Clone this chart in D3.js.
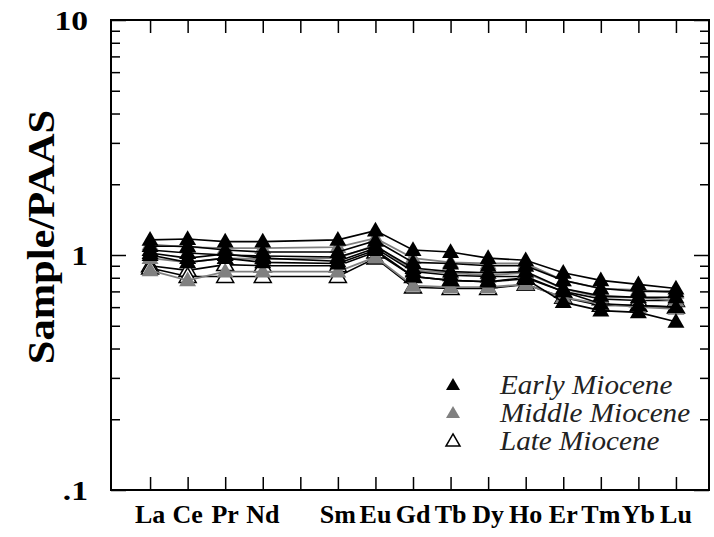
<!DOCTYPE html>
<html><head><meta charset="utf-8">
<script src="https://cdn.jsdelivr.net/npm/d3@7"></script>
<style>
html,body{margin:0;padding:0;background:#fff;}
svg{display:block;}
</style>
</head><body>
<svg id="chart" width="714" height="537"></svg>
<script>
// ---- data ----
const ree = ["La","Ce","Pr","Nd","Sm","Eu","Gd","Tb","Dy","Ho","Er","Tm","Yb","Lu"];
const reeZ = [57,58,59,60,62,63,64,65,66,67,68,69,70,71];
const tickZ = [57,58,59,60,61,62,63,64,65,66,67,68,69,70,71];
const tickLabels = ["La","Ce","Pr","Nd","","Sm","Eu","Gd","Tb","Dy","Ho","Er","Tm","Yb","Lu"];
const yMajor = [0.1, 1, 10];
const yMajorLabels = [".1", "1", "10"];
const yMinor = [0.2,0.3,0.4,0.5,0.6,0.7,0.8,0.9,2,3,4,5,6,7,8,9];

const early1 = [1.16,1.17,1.14,1.14,1.16,1.27,1.05,1.03,0.97,0.95,0.84,0.78,0.75,0.72];
const early2 = [1.09,1.09,1.05,1.03,1.03,1.15,0.93,0.92,0.90,0.90,0.78,0.72,0.70,0.70];
const early3 = [1.05,1.02,1.00,0.99,0.98,1.09,0.88,0.85,0.84,0.85,0.72,0.67,0.66,0.66];
const early4 = [1.02,0.97,1.01,0.97,0.94,1.07,0.85,0.82,0.81,0.81,0.70,0.62,0.61,0.60];
const early5 = [1.00,0.93,0.97,0.93,0.92,1.05,0.81,0.78,0.77,0.79,0.63,0.58,0.57,0.52];
const middle1 = [1.11,1.08,1.07,1.07,1.08,1.18,0.97,0.93,0.92,0.92,0.78,0.72,0.71,0.69];
const middle2 = [0.97,0.93,0.97,0.96,0.97,1.10,0.86,0.84,0.82,0.84,0.72,0.66,0.66,0.64];
const middle3 = [0.86,0.78,0.85,0.85,0.85,0.98,0.74,0.73,0.73,0.75,0.66,0.62,0.60,0.59];
const late1 = [0.90,0.86,0.91,0.90,0.90,1.03,0.81,0.78,0.77,0.80,0.70,0.65,0.64,0.64];
const late2 = [0.88,0.81,0.81,0.81,0.81,0.97,0.73,0.72,0.72,0.75,0.66,0.61,0.61,0.60];

const groupNames = ["Early Miocene","Middle Miocene","Late Miocene"];

// ---- drawing ----
const svg = d3.select("#chart");
const L = 111, R = 709, T = 20, B = 490;
const x = d3.scaleLinear().domain([55.96, 71.88]).range([L, R]);
const y = d3.scaleLog().domain([0.1, 10]).range([B, T]);

const serif = "Liberation Serif";

const groups = [
  {name: groupNames[2], series: [late1, late2], fill: "#ffffff", stroke: "#000", line: "#000", lw: 1.6},
  {name: groupNames[1], series: [middle1, middle2, middle3], fill: "#808080", stroke: "none", line: "#808080", lw: 1.8},
  {name: groupNames[0], series: [early1, early2, early3, early4, early5], fill: "#000", stroke: "none", line: "#000", lw: 1.6}
];

const line = d3.line().x((d,i) => x(reeZ[i])).y(d => y(d));
const tri = d3.symbol().type(d3.symbolTriangle).size(125);

function styleAxis(g){
  g.select(".domain").remove();
  g.selectAll(".tick line").attr("stroke","#000").attr("stroke-width",1.5);
  g.selectAll(".tick text").remove();
}
svg.append("g").attr("transform",`translate(0,${B})`)
  .call(d3.axisBottom(x).tickValues(tickZ).tickSize(-13)).call(styleAxis);
svg.append("g").attr("transform",`translate(0,${T})`)
  .call(d3.axisTop(x).tickValues(tickZ).tickSize(-13)).call(styleAxis);
svg.append("g").attr("transform",`translate(${L},0)`)
  .call(d3.axisLeft(y).tickValues(yMinor).tickSize(-9)).call(styleAxis);
svg.append("g").attr("transform",`translate(${L},0)`)
  .call(d3.axisLeft(y).tickValues(yMajor).tickSize(-15)).call(styleAxis);
svg.append("g").attr("transform",`translate(${R},0)`)
  .call(d3.axisRight(y).tickValues(yMinor).tickSize(-9)).call(styleAxis);
svg.append("g").attr("transform",`translate(${R},0)`)
  .call(d3.axisRight(y).tickValues(yMajor).tickSize(-15)).call(styleAxis);

// tick labels
svg.append("g").selectAll("text").data(tickZ).enter().append("text")
  .attr("transform",d => `translate(${x(d)},523)`)
  .attr("text-anchor","middle")
  .style("font-family",serif).style("font-weight","bold").style("font-size","26px")
  .attr("fill","#000")
  .text((d,i) => tickLabels[i]);
svg.append("g").selectAll("text").data(yMajor).enter().append("text")
  .attr("transform",d => `translate(88,${y(d)+10}) scale(1.2,1)`)
  .attr("text-anchor","end")
  .style("font-family",serif).style("font-weight","bold").style("font-size","28px")
  .attr("fill","#000")
  .text((d,i) => yMajorLabels[i]);

// frame
svg.append("rect").attr("x",L).attr("y",T).attr("width",R-L).attr("height",B-T)
  .attr("fill","none").attr("stroke","#000").attr("stroke-width",2);

// series
groups.forEach(gr => {
  const g = svg.append("g");
  gr.series.forEach(s => {
    g.append("path").attr("d", line(s)).attr("fill","none")
      .attr("stroke", gr.line).attr("stroke-width", gr.lw);
  });
  gr.series.forEach(s => {
    g.selectAll(null).data(s).enter().append("path")
      .attr("d", tri)
      .attr("transform",(d,i) => `translate(${x(reeZ[i])},${y(d)+1})`)
      .attr("fill", gr.fill).attr("stroke", gr.stroke).attr("stroke-width", 1.5);
  });
});

// y title
svg.append("text")
  .attr("transform","translate(54,237) rotate(-90) scale(1.12,1)")
  .attr("text-anchor","middle")
  .style("font-family",serif).style("font-weight","bold").style("font-size","38px")
  .text("Sample/PAAS");

// legend
const legend = [
  {name: groupNames[0], fill:"#000", stroke:"none"},
  {name: groupNames[1], fill:"#808080", stroke:"none"},
  {name: groupNames[2], fill:"#fff", stroke:"#000"}
];
const legY = [386, 414, 442];
legend.forEach((d,i) => {
  svg.append("path").attr("d", d3.symbol().type(d3.symbolTriangle).size(85)())
    .attr("transform",`translate(453,${legY[i]})`)
    .attr("fill", d.fill).attr("stroke", d.stroke).attr("stroke-width",1.5);
  svg.append("text").attr("transform",`translate(500,${legY[i]+8}) scale(1.1,1)`)
    .style("font-family",serif).style("font-style","italic").style("font-size","26.5px")
    .attr("fill","#222").text(d.name);
});
</script>
</body></html>
